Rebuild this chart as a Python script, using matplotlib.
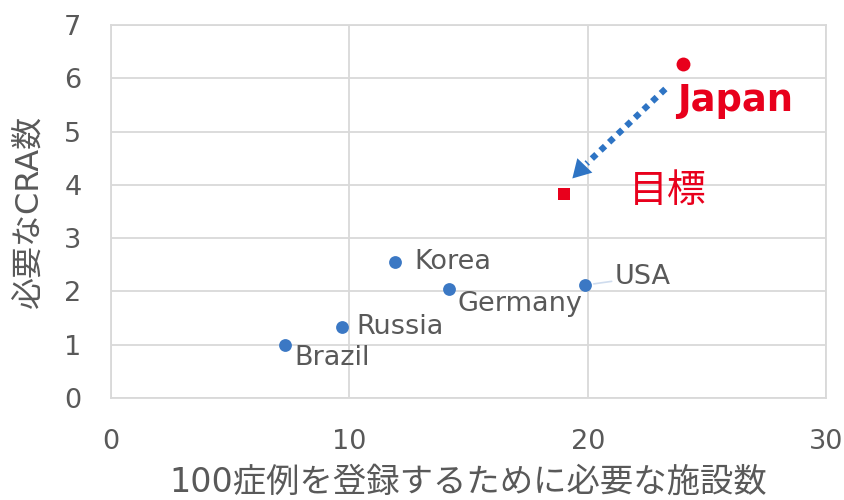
import matplotlib
matplotlib.use("Agg")
import matplotlib.pyplot as plt

plt.rcParams["font.family"] = ["DejaVu Sans", "Noto Sans CJK JP"]

# data
countries = ["Brazil", "Russia", "Korea", "Germany", "USA"]
sites = [7.3, 9.7, 11.9, 14.2, 19.9]
cras = [1.0, 1.33, 2.55, 2.04, 2.12]
label_offsets = [(10, -13), (14, 0), (20, 0), (8, -15), (29, 8)]

japan_xy = (24.0, 6.27)
target_xy = (19.0, 3.83)
arrow_from = (23.25, 5.8)
shaft_end = (19.95, 4.4)
arrow_to = (19.35, 4.12)

x_ticks = [0, 10, 20, 30]
y_ticks = [0, 1, 2, 3, 4, 5, 6, 7]

blue = "#3b78c4"
arrow_blue = "#2e74c4"
red = "#e8001c"
gray = "#595959"
grid = "#d9d9d9"

fig = plt.figure(figsize=(8.45, 5.0), dpi=100)
ax = fig.add_axes([0.131, 0.204, 0.847, 0.746])

ax.scatter(sites, cras, s=85, color=blue, zorder=3, linewidths=0)
for name, x, y, off in zip(countries, sites, cras, label_offsets):
    props = None
    if name == "USA":
        props = dict(arrowstyle="-", color="#cfdcee", lw=1.2, shrinkA=0, shrinkB=6)
    ax.annotate(name, (x, y), xytext=off, textcoords="offset pixels",
                ha="left", va="center", fontsize=19.5, color=gray,
                arrowprops=props)

ax.scatter([japan_xy[0]], [japan_xy[1]], s=100, color=red, zorder=3, linewidths=0)
ax.scatter([target_xy[0]], [target_xy[1]], s=85, marker="s", color=red,
           zorder=3, linewidths=0)
ax.annotate("Japan", japan_xy, xytext=(-6, -37), textcoords="offset pixels",
            ha="left", va="center", fontsize=26.5, fontweight="bold", color=red)
ax.annotate("目標", target_xy, xytext=(65, 3), textcoords="offset pixels",
            ha="left", va="center", fontsize=28, color=red,
            family=["Noto Sans CJK JP", "DejaVu Sans"])

# dotted shaft + solid head
ax.plot([arrow_from[0], shaft_end[0]], [arrow_from[1], shaft_end[1]],
        color=arrow_blue, lw=4.5, linestyle=(0, (1, 0.9)),
        dash_capstyle="butt", zorder=2)
ax.annotate("", xy=arrow_to, xytext=shaft_end,
            arrowprops=dict(arrowstyle="-|>,head_length=1.3,head_width=0.75",
                            color=arrow_blue, lw=0, shrinkA=0, shrinkB=0))

ax.set_xlim(0, 30)
ax.set_ylim(0, 7)
ax.set_xticks(x_ticks)
ax.set_yticks(y_ticks)
ax.grid(True, color=grid, linewidth=1.3)
ax.set_axisbelow(True)
for sp in ax.spines.values():
    sp.set_color(grid)
    sp.set_linewidth(1.3)
ax.tick_params(axis="y", length=0, labelsize=19.5, colors=gray, pad=21)
ax.tick_params(axis="x", length=0, labelsize=19.5, colors=gray, pad=22)
ax.set_xlabel("100症例を登録するために必要な施設数", fontsize=24, color=gray, labelpad=8)
ax.set_ylabel("必要なCRA数", fontsize=23, color=gray, labelpad=14)

fig.savefig("out.png", dpi=100)
